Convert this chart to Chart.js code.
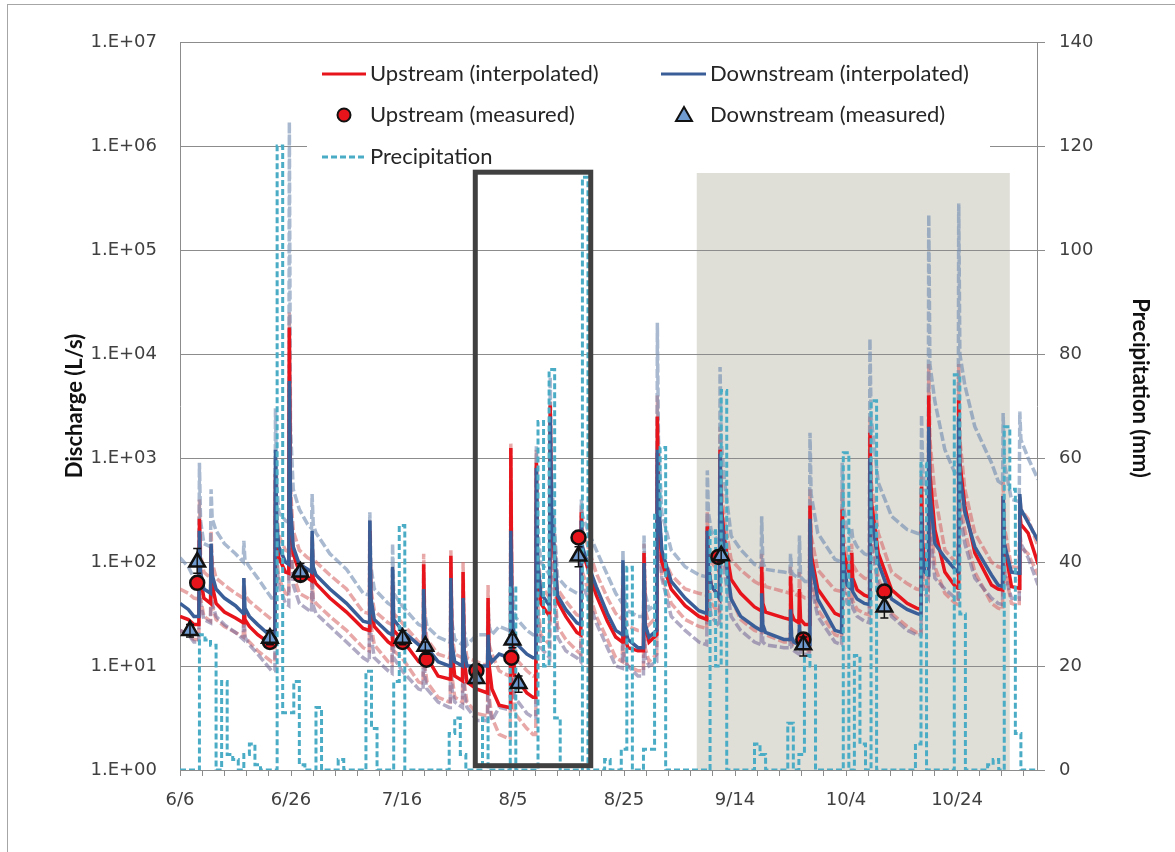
<!DOCTYPE html>
<html>
<head>
<meta charset="utf-8">
<script src="https://cdn.jsdelivr.net/npm/chart.js@4.4.1/dist/chart.umd.min.js"></script>
<style>
  body { margin: 0; background: #fff; }
  #wrap { position: relative; width: 1175px; height: 852px; }
</style>
</head>
<body>
<div id="wrap"><canvas id="myChart" width="1175" height="852"></canvas></div>
<script>
// x = days since 6/6
const xTickLabels = ["6/6", "6/26", "7/16", "8/5", "8/25", "9/14", "10/4", "10/24"]
const xTickDays = [0, 4, 8, 12, 16, 20, 24, 28, 32, 36, 40, 44, 48, 52, 56, 60, 64, 68, 72, 76,
    80, 84, 88, 92, 96, 100, 104, 108, 112, 116, 120, 124, 128, 132, 136, 140, 144, 148, 152]
const yTickValues = [1, 10, 100, 1000, 10000, 100000, 1000000, 10000000]
const y2TickValues = [0, 20, 40, 60, 80, 100, 120, 140]

// interpolated discharge (L/s) read at these days
const days = [
    0, 1.5, 2.5, 3.4, 3.5, 3.7, 4.3, 5.5, 5.6, 5.8,
    6.5, 8, 10, 11.4, 11.5, 11.7, 12.5, 14, 16.5, 17.1,
    17.2, 17.4, 17.8, 19, 19.6, 19.7, 19.9, 20.4, 21.5, 23,
    23.7, 23.8, 24.0, 24.5, 27, 30, 33, 34.1, 34.2, 34.4,
    35, 37.5, 38.2, 38.3, 38.5, 40, 43, 43.8, 43.9, 44.1,
    44.5, 46.5, 48.5, 48.7, 48.8, 49.0, 49.5, 50.9, 51, 51.2,
    51.7, 53.5, 55.4, 55.5, 55.7, 56.2, 57.5, 59.3, 59.5, 59.6,
    59.8, 60.3, 62.5, 63.6, 64.1, 64.2, 64.4, 65, 66.6, 66.7,
    66.9, 67.3, 68, 69.5, 71.5, 72.2, 72.3, 72.5, 73.5, 75,
    77, 78.5, 79.7, 79.8, 80.0, 80.7, 82.5, 83.5, 83.6, 83.8,
    84.5, 85.9, 86, 86.2, 86.8, 88.5, 91, 93.5, 94.9, 95,
    95.2, 95.7, 97.2, 97.3, 97.5, 98.1, 99.3, 101, 103.5, 104.7,
    104.8, 105.0, 105.5, 108.8, 109.9, 110, 110.2, 110.6, 111.5, 111.6,
    111.8, 112.6, 113.4, 113.5, 113.7, 114.9, 118, 119.2, 119.3, 119.5,
    120.2, 120.9, 121, 121.2, 122, 123.3, 124.2, 124.3, 124.5, 125.8,
    128.2, 131, 132.7, 133.5, 133.6, 133.8, 134.2, 134.8, 134.9, 135.1,
    136, 137.8, 139.7, 140.2, 140.3, 140.5, 141.4, 143.2, 146.2, 147.4,
    148.2, 148.3, 148.5, 149.8, 151.2, 151.3, 151.5, 152.8, 154.6]

const upstream = [
    30, 28, 25, 25, 260, 70, 45, 40, 140, 60,
    40, 33, 29, 26, 45, 28, 24, 20, 16, 16,
    700, 200, 110, 80, 78, 18000, 300, 120, 80, 70,
    66, 120, 70, 62, 45, 33, 23, 22, 200, 40,
    24, 17, 16, 60, 22, 18, 11, 10.5, 95, 18,
    12, 8, 7.5, 7.5, 115, 14, 8, 7.2, 80, 12,
    7, 6, 5.5, 45, 10, 6, 4.2, 4, 4, 1250,
    25, 8, 5.5, 5, 5, 900, 90, 40, 30, 3200,
    300, 150, 42, 30, 21, 20, 300, 130, 85, 48,
    27, 19, 17, 60, 20, 15, 14, 14, 122, 25,
    17, 20, 2500, 350, 100, 55, 38, 30, 28, 220,
    90, 60, 45, 1200, 350, 165, 68, 50, 37, 34,
    90, 40, 33, 29, 28, 73, 32, 28, 26, 55,
    28, 25, 25, 350, 120, 55, 32, 30, 320, 130,
    90, 70, 122, 70, 54, 48, 46, 1750, 400, 122,
    54, 40, 36, 35, 530, 150, 100, 90, 4000, 700,
    205, 80, 58, 56, 3600, 900, 345, 122, 60, 55,
    54, 430, 150, 58, 56, 300, 230, 190, 95]

const upstreamHigh = [
    55, 50, 45, 44, 400, 120, 80, 70, 200, 100,
    70, 60, 50, 45, 70, 48, 42, 36, 28, 28,
    1000, 300, 180, 130, 125, 25000, 500, 200, 130, 110,
    105, 180, 110, 100, 75, 55, 33, 32, 250, 55,
    34, 26, 25, 90, 32, 26, 17, 16, 120, 26,
    18, 13, 12, 12, 130, 20, 13, 12, 100, 18,
    12, 11, 10, 60, 16, 13, 9, 8, 8, 1400,
    40, 12, 9, 8, 8, 1200, 130, 60, 45, 3500,
    450, 250, 55, 42, 31, 30, 350, 200, 140, 78,
    45, 32, 28, 90, 30, 24, 22, 22, 150, 35,
    25, 30, 4000, 500, 120, 75, 55, 50, 48, 300,
    150, 100, 80, 2000, 550, 250, 105, 84, 65, 60,
    120, 65, 58, 52, 50, 90, 54, 50, 47, 80,
    48, 45, 45, 500, 180, 84, 54, 52, 500, 180,
    110, 95, 150, 95, 80, 70, 68, 2500, 600, 190,
    80, 62, 55, 54, 700, 220, 150, 140, 8000, 1500,
    450, 130, 100, 96, 8000, 1500, 500, 190, 100, 90,
    88, 600, 220, 90, 88, 420, 320, 260, 140]

const upstreamLow = [
    22, 20, 18, 18, 150, 45, 30, 27, 90, 38,
    28, 24, 21, 19, 30, 19, 17, 14, 11, 11,
    400, 120, 70, 50, 48, 3000, 180, 75, 50, 45,
    42, 70, 44, 40, 30, 22, 15, 14, 120, 25,
    16, 11, 10.5, 40, 14, 12, 7, 6.8, 50, 10,
    7, 5, 4.5, 4.5, 60, 8, 5, 4.5, 40, 7,
    4.5, 3.5, 3.3, 20, 5, 3.2, 2.2, 2, 2, 600,
    10, 3.5, 2.5, 2.2, 2.2, 400, 45, 20, 16, 1200,
    150, 80, 24, 18, 14, 13, 150, 80, 55, 30,
    18, 12, 11, 40, 12, 10, 9, 9, 60, 15,
    11, 13, 900, 200, 75, 40, 28, 24, 23, 150,
    60, 40, 32, 700, 220, 110, 45, 28, 22, 21,
    50, 23, 20, 17, 17, 40, 18, 16, 15, 30,
    15, 14, 14, 200, 70, 35, 20, 19, 200, 75,
    50, 42, 60, 42, 35, 32, 31, 700, 200, 70,
    32, 24, 21, 21, 200, 80, 60, 55, 1200, 300,
    90, 50, 40, 39, 1200, 400, 200, 80, 40, 36,
    35, 250, 90, 40, 38, 180, 140, 120, 75]

const downstream = [
    40, 35, 30, 30, 200, 80, 55, 50, 150, 75,
    55, 45, 38, 32, 70, 36, 30, 25, 19, 19,
    1200, 250, 140, 100, 95, 5500, 350, 140, 95, 85,
    80, 200, 90, 75, 55, 40, 27, 26, 250, 45,
    28, 21, 20, 90, 28, 22, 16, 15, 55, 20,
    15, 11, 10, 10, 70, 16, 11, 10, 45, 14,
    10, 10, 10, 20, 13, 11, 13, 12, 12, 200,
    35, 17, 13, 12, 12, 800, 110, 50, 38, 2500,
    350, 170, 48, 35, 26, 25, 250, 140, 95, 58,
    32, 22, 20, 104, 25, 18, 15, 15, 98, 25,
    19, 22, 1200, 400, 130, 65, 45, 34, 32, 200,
    90, 60, 45, 1100, 300, 130, 44, 30, 24, 22,
    50, 25, 21, 18, 18, 35, 19, 17, 16, 25,
    17, 16, 16, 260, 100, 44, 22, 21, 250, 100,
    60, 55, 70, 52, 44, 40, 39, 1000, 300, 98,
    44, 35, 32, 31, 300, 110, 80, 75, 2000, 450,
    150, 110, 84, 80, 2500, 700, 300, 140, 75, 60,
    58, 430, 150, 80, 78, 450, 320, 240, 160]

const downstreamHigh = [
    110, 90, 70, 68, 900, 250, 150, 140, 500, 260,
    200, 150, 120, 100, 160, 105, 90, 70, 45, 45,
    3000, 600, 300, 250, 240, 1700000, 2000, 500, 320, 230,
    210, 450, 230, 190, 120, 85, 50, 48, 300, 90,
    55, 40, 38, 150, 50, 38, 25, 24, 70, 32,
    24, 19, 17, 17, 90, 26, 18, 16, 55, 22,
    16, 20, 20, 35, 24, 20, 24, 22, 22, 300,
    60, 30, 22, 20, 20, 1300, 220, 100, 75, 6000,
    700, 300, 72, 58, 50, 48, 400, 280, 200, 130,
    75, 50, 40, 130, 45, 34, 30, 30, 180, 50,
    35, 40, 20000, 1500, 300, 130, 90, 75, 72, 760,
    300, 200, 150, 7500, 1500, 600, 178, 132, 95, 88,
    275, 100, 85, 80, 78, 120, 80, 75, 70, 180,
    72, 65, 65, 1750, 450, 190, 106, 100, 900, 350,
    200, 180, 210, 170, 140, 120, 115, 14000, 2500, 580,
    275, 205, 190, 185, 2600, 800, 500, 450, 218000, 8000,
    3500, 1200, 700, 680, 280000, 10000, 5000, 2000, 900, 600,
    560, 2700, 900, 400, 380, 2800, 1500, 1000, 620]

const downstreamLow = [
    22, 20, 17, 17, 120, 40, 28, 26, 80, 40,
    30, 25, 21, 18, 35, 19, 16, 13, 9, 9,
    500, 100, 60, 40, 38, 1500, 150, 60, 40, 35,
    33, 80, 38, 32, 24, 17, 12, 11, 100, 20,
    12, 9, 8.5, 50, 12, 9, 6, 5.8, 30, 8,
    6, 4.5, 4, 4, 35, 6, 4.5, 4, 25, 5.5,
    4, 3, 3, 8, 4, 3, 4, 3.8, 3.8, 100,
    10, 5, 3.5, 3.2, 3.2, 250, 35, 15, 12, 800,
    110, 60, 19, 14, 12, 11, 120, 60, 45, 26,
    15, 10, 9.5, 40, 11, 10, 8, 8, 40, 12,
    10, 11, 600, 180, 70, 30, 22, 17, 16, 100,
    45, 30, 24, 600, 180, 80, 30, 22, 17, 16,
    35, 17, 16, 15, 15, 25, 15, 14, 13, 20,
    13, 13, 13, 150, 60, 30, 17, 16, 150, 60,
    40, 38, 45, 36, 30, 27, 26, 500, 150, 60,
    30, 22, 20, 20, 150, 60, 50, 45, 800, 200,
    70, 55, 45, 44, 800, 300, 150, 70, 45, 40,
    39, 200, 80, 45, 44, 200, 150, 110, 60]

// measured discharge
const upMeasDays = [3.1, 16.2, 21.7, 40.1, 44.4, 53.4, 59.7, 71.8, 97.0, 112.3, 126.9]
const upMeas = [63, 17, 75, 17, 11.5, 9, 12, 172, 112, 18, 52]
const dnMeasDays = [1.8, 3.1, 16.2, 21.7, 40.1, 44.2, 53.4, 59.9, 61.0, 71.8, 97.5, 112.3, 126.9]
const dnMeas = [22, 100, 18.5, 80, 18.5, 15.5, 7.6, 17.8, 6.8, 114, 115, 16, 37]
const dnErrLow = [19, 78, 16, 66, 16, 13, 6.8, 15, 5.6, 90, 100, 12.5, 29]
const dnErrHigh = [25, 135, 22, 97, 22, 17, 8.5, 20, 8, 140, 130, 19, 46]

// daily precipitation (mm), day 0 = 6/6
const precip = [
    0, 0, 0, 26, 25, 24, 0, 17, 3, 2,
    0, 3, 5, 1, 0, 0, 0, 120, 11, 11,
    17, 1, 0, 0, 12, 0, 0, 0, 2, 0,
    0, 0, 0, 19, 8, 0, 0, 0, 17, 47,
    0, 0, 0, 0, 0, 0, 0, 0, 7, 10,
    3, 0, 0, 0, 10, 0, 0, 0, 0, 35,
    0, 0, 0, 0, 67, 20, 77, 10, 0, 0,
    0, 0, 114, 0, 0, 0, 2, 0, 0, 4,
    39, 0, 0, 4, 4, 49, 62, 0, 0, 0,
    0, 0, 0, 0, 0, 46, 20, 73, 0, 0,
    0, 0, 0, 5, 3, 0, 0, 0, 0, 9,
    0, 3, 22, 20, 0, 0, 0, 0, 0, 61,
    0, 22, 5, 0, 71, 0, 0, 0, 0, 0,
    0, 0, 5, 59, 0, 0, 0, 0, 0, 76,
    30, 0, 0, 0, 0, 1, 2, 0, 66, 54,
    7, 0, 0, 0, 0]

// shaded period and highlighted box (days, L/s)
const shadeDays = [93.1, 149.5]
const shadeTop = 550000
const boxDays = [53.2, 74.0]
const boxQ = [1.1, 560000]

const pts = (xs, ys) => xs.map((x, i) => ({ x: x, y: ys[i] }))
const precipPts = [{ x: 0, y: 0 }].concat(precip.map((v, i) => ({ x: i + 0.5, y: v })))

const bandLine = (data, color, order) => ({
    type: "line", data: data, borderColor: color, borderWidth: 3.5,
    borderDash: [9, 3], pointRadius: 0, tension: 0, order: order, yAxisID: "y"
})

const decor = {
    id: "decor",
    beforeDraw(chart) {
        const { ctx, scales: { x, y } } = chart
        ctx.save()
        ctx.strokeStyle = "#a6a6a6"
        ctx.lineWidth = 1
        ctx.strokeRect(7.5, 4.5, 1300, 1000)
        const l = x.getPixelForValue(shadeDays[0])
        const r = x.getPixelForValue(shadeDays[1])
        const t = y.getPixelForValue(shadeTop)
        const b = y.getPixelForValue(1)
        ctx.fillStyle = "#dfded7"
        ctx.fillRect(l, t, r - l, b - t)
        ctx.restore()
    },
    afterDatasetsDraw(chart) {
        const { ctx, scales: { x, y } } = chart
        ctx.save()
        // error bars
        ctx.strokeStyle = "#111"
        ctx.lineWidth = 1.5
        dnMeasDays.forEach((d, i) => {
            const px = x.getPixelForValue(d)
            const lo = y.getPixelForValue(dnErrLow[i])
            const hi = y.getPixelForValue(dnErrHigh[i])
            ctx.beginPath()
            ctx.moveTo(px, lo); ctx.lineTo(px, hi)
            ctx.moveTo(px - 4, lo); ctx.lineTo(px + 4, lo)
            ctx.moveTo(px - 4, hi); ctx.lineTo(px + 4, hi)
            ctx.stroke()
        })
        // box
        const l = x.getPixelForValue(boxDays[0])
        const r = x.getPixelForValue(boxDays[1])
        const t = y.getPixelForValue(boxQ[1])
        const b = y.getPixelForValue(boxQ[0])
        ctx.strokeStyle = "#404040"
        ctx.lineWidth = 5
        ctx.strokeRect(l, t, r - l, b - t)
        ctx.restore()
    },
    afterDraw(chart) {
        const ctx = chart.ctx
        ctx.save()
        ctx.fillStyle = "#fff"
        ctx.fillRect(307, 54, 683, 114)
        ctx.font = "22px Lato"
        ctx.fillStyle = "#262626"
        ctx.textBaseline = "middle"
        ctx.textAlign = "left"
        ctx.fillText("Upstream (interpolated)", 370, 74)
        ctx.fillText("Downstream (interpolated)", 710, 74)
        ctx.fillText("Upstream (measured)", 370, 115)
        ctx.fillText("Downstream (measured)", 710, 115)
        ctx.fillText("Precipitation", 370, 157)

        ctx.lineWidth = 3
        ctx.strokeStyle = "#e8141b"
        ctx.beginPath(); ctx.moveTo(322, 74); ctx.lineTo(366, 74); ctx.stroke()
        ctx.strokeStyle = "#3a5f98"
        ctx.beginPath(); ctx.moveTo(661, 74); ctx.lineTo(706, 74); ctx.stroke()
        ctx.strokeStyle = "#4bacc6"
        ctx.setLineDash([6, 3])
        ctx.beginPath(); ctx.moveTo(322, 157); ctx.lineTo(366, 157); ctx.stroke()
        ctx.setLineDash([])

        ctx.lineWidth = 2
        ctx.strokeStyle = "#111"
        ctx.fillStyle = "#e8141b"
        ctx.beginPath(); ctx.arc(344, 115, 6.5, 0, Math.PI * 2); ctx.fill(); ctx.stroke()
        ctx.fillStyle = "#6f9bd1"
        ctx.beginPath(); ctx.moveTo(684, 107); ctx.lineTo(692, 121); ctx.lineTo(676, 121); ctx.closePath()
        ctx.fill(); ctx.stroke()

        // right axis title
        ctx.translate(1140, 388)
        ctx.rotate(Math.PI / 2)
        ctx.font = "bold 22px Lato"
        ctx.fillStyle = "#111"
        ctx.textAlign = "center"
        ctx.fillText("Precipitation (mm)", 0, 0)
        ctx.restore()
    }
}

Chart.defaults.font.family = "'DejaVu Sans', Verdana, sans-serif"
Chart.defaults.color = "#404040"

const config = {
    type: "line",
    data: {
        datasets: [
            {
                type: "line", label: "Downstream (measured)", data: pts(dnMeasDays, dnMeas),
                showLine: false, pointStyle: "triangle", pointRadius: 9, pointBorderWidth: 2.5,
                pointBackgroundColor: "#6f9bd1", pointBorderColor: "#111", order: 0, yAxisID: "y"
            },
            {
                type: "line", label: "Upstream (measured)", data: pts(upMeasDays, upMeas),
                showLine: false, pointStyle: "circle", pointRadius: 7, pointBorderWidth: 2.5,
                pointBackgroundColor: "#e8141b", pointBorderColor: "#111", order: 1, yAxisID: "y"
            },
            {
                type: "line", label: "Precipitation", data: precipPts, stepped: "before",
                borderColor: "#4bacc6", borderWidth: 3, borderDash: [6, 3], pointRadius: 0,
                order: 2, yAxisID: "y2"
            },
            {
                type: "line", label: "Downstream (interpolated)", data: pts(days, downstream),
                borderColor: "#3a5f98", borderWidth: 3.5, pointRadius: 0, tension: 0, order: 3, yAxisID: "y"
            },
            {
                type: "line", label: "Upstream (interpolated)", data: pts(days, upstream),
                borderColor: "#e8141b", borderWidth: 3.5, pointRadius: 0, tension: 0, order: 4, yAxisID: "y"
            },
            bandLine(pts(days, downstreamHigh), "rgba(110,138,176,0.6)", 5),
            bandLine(pts(days, downstreamLow), "rgba(112,100,150,0.55)", 5),
            bandLine(pts(days, upstreamHigh), "rgba(214,96,96,0.55)", 6),
            bandLine(pts(days, upstreamLow), "rgba(214,96,96,0.55)", 6)
        ]
    },
    options: {
        responsive: false,
        animation: false,
        devicePixelRatio: 1,
        layout: { padding: { top: 42, left: 0, right: 0, bottom: 0 } },
        plugins: { legend: { display: false }, tooltip: { enabled: false } },
        scales: {
            x: {
                type: "linear", min: 0, max: 154.4,
                afterFit: (s) => { s.height = 82 },
                afterBuildTicks: (s) => { s.ticks = xTickDays.map(v => ({ value: v })) },
                grid: { drawOnChartArea: false, drawTicks: true, tickLength: 6, color: "#8c8c8c" },
                border: { display: true, color: "#8c8c8c" },
                ticks: {
                    autoSkip: false, maxRotation: 0, padding: 14, font: { size: 18 },
                    callback: (v) => (v % 20 === 0 ? xTickLabels[v / 20] : "")
                }
            },
            y: {
                type: "logarithmic", position: "left", min: 1, max: 10000000,
                afterFit: (s) => { s.width = 180 },
                afterBuildTicks: (s) => { s.ticks = yTickValues.map(v => ({ value: v })) },
                grid: { color: "#8c8c8c", drawTicks: false },
                border: { display: true, color: "#8c8c8c" },
                ticks: {
                    padding: 23, font: { size: 18 },
                    callback: (v) => "1.E+" + String(Math.round(Math.log10(v))).padStart(2, "0")
                },
                title: {
                    display: true, text: "Discharge (L/s)", color: "#111",
                    font: { family: "Lato", size: 22, weight: "bold" }, padding: { top: 62, bottom: 0 }
                }
            },
            y2: {
                type: "linear", position: "right", min: 0, max: 140,
                afterFit: (s) => { s.width = 138 },
                afterBuildTicks: (s) => { s.ticks = y2TickValues.map(v => ({ value: v })) },
                grid: { drawOnChartArea: false, drawTicks: true, tickLength: 8, color: "#8c8c8c" },
                border: { display: true, color: "#8c8c8c" },
                ticks: { padding: 14, font: { size: 18 } }
            }
        }
    },
    plugins: [decor]
}

new Chart(document.querySelector("#myChart"), config)
</script>
</body>
</html>
